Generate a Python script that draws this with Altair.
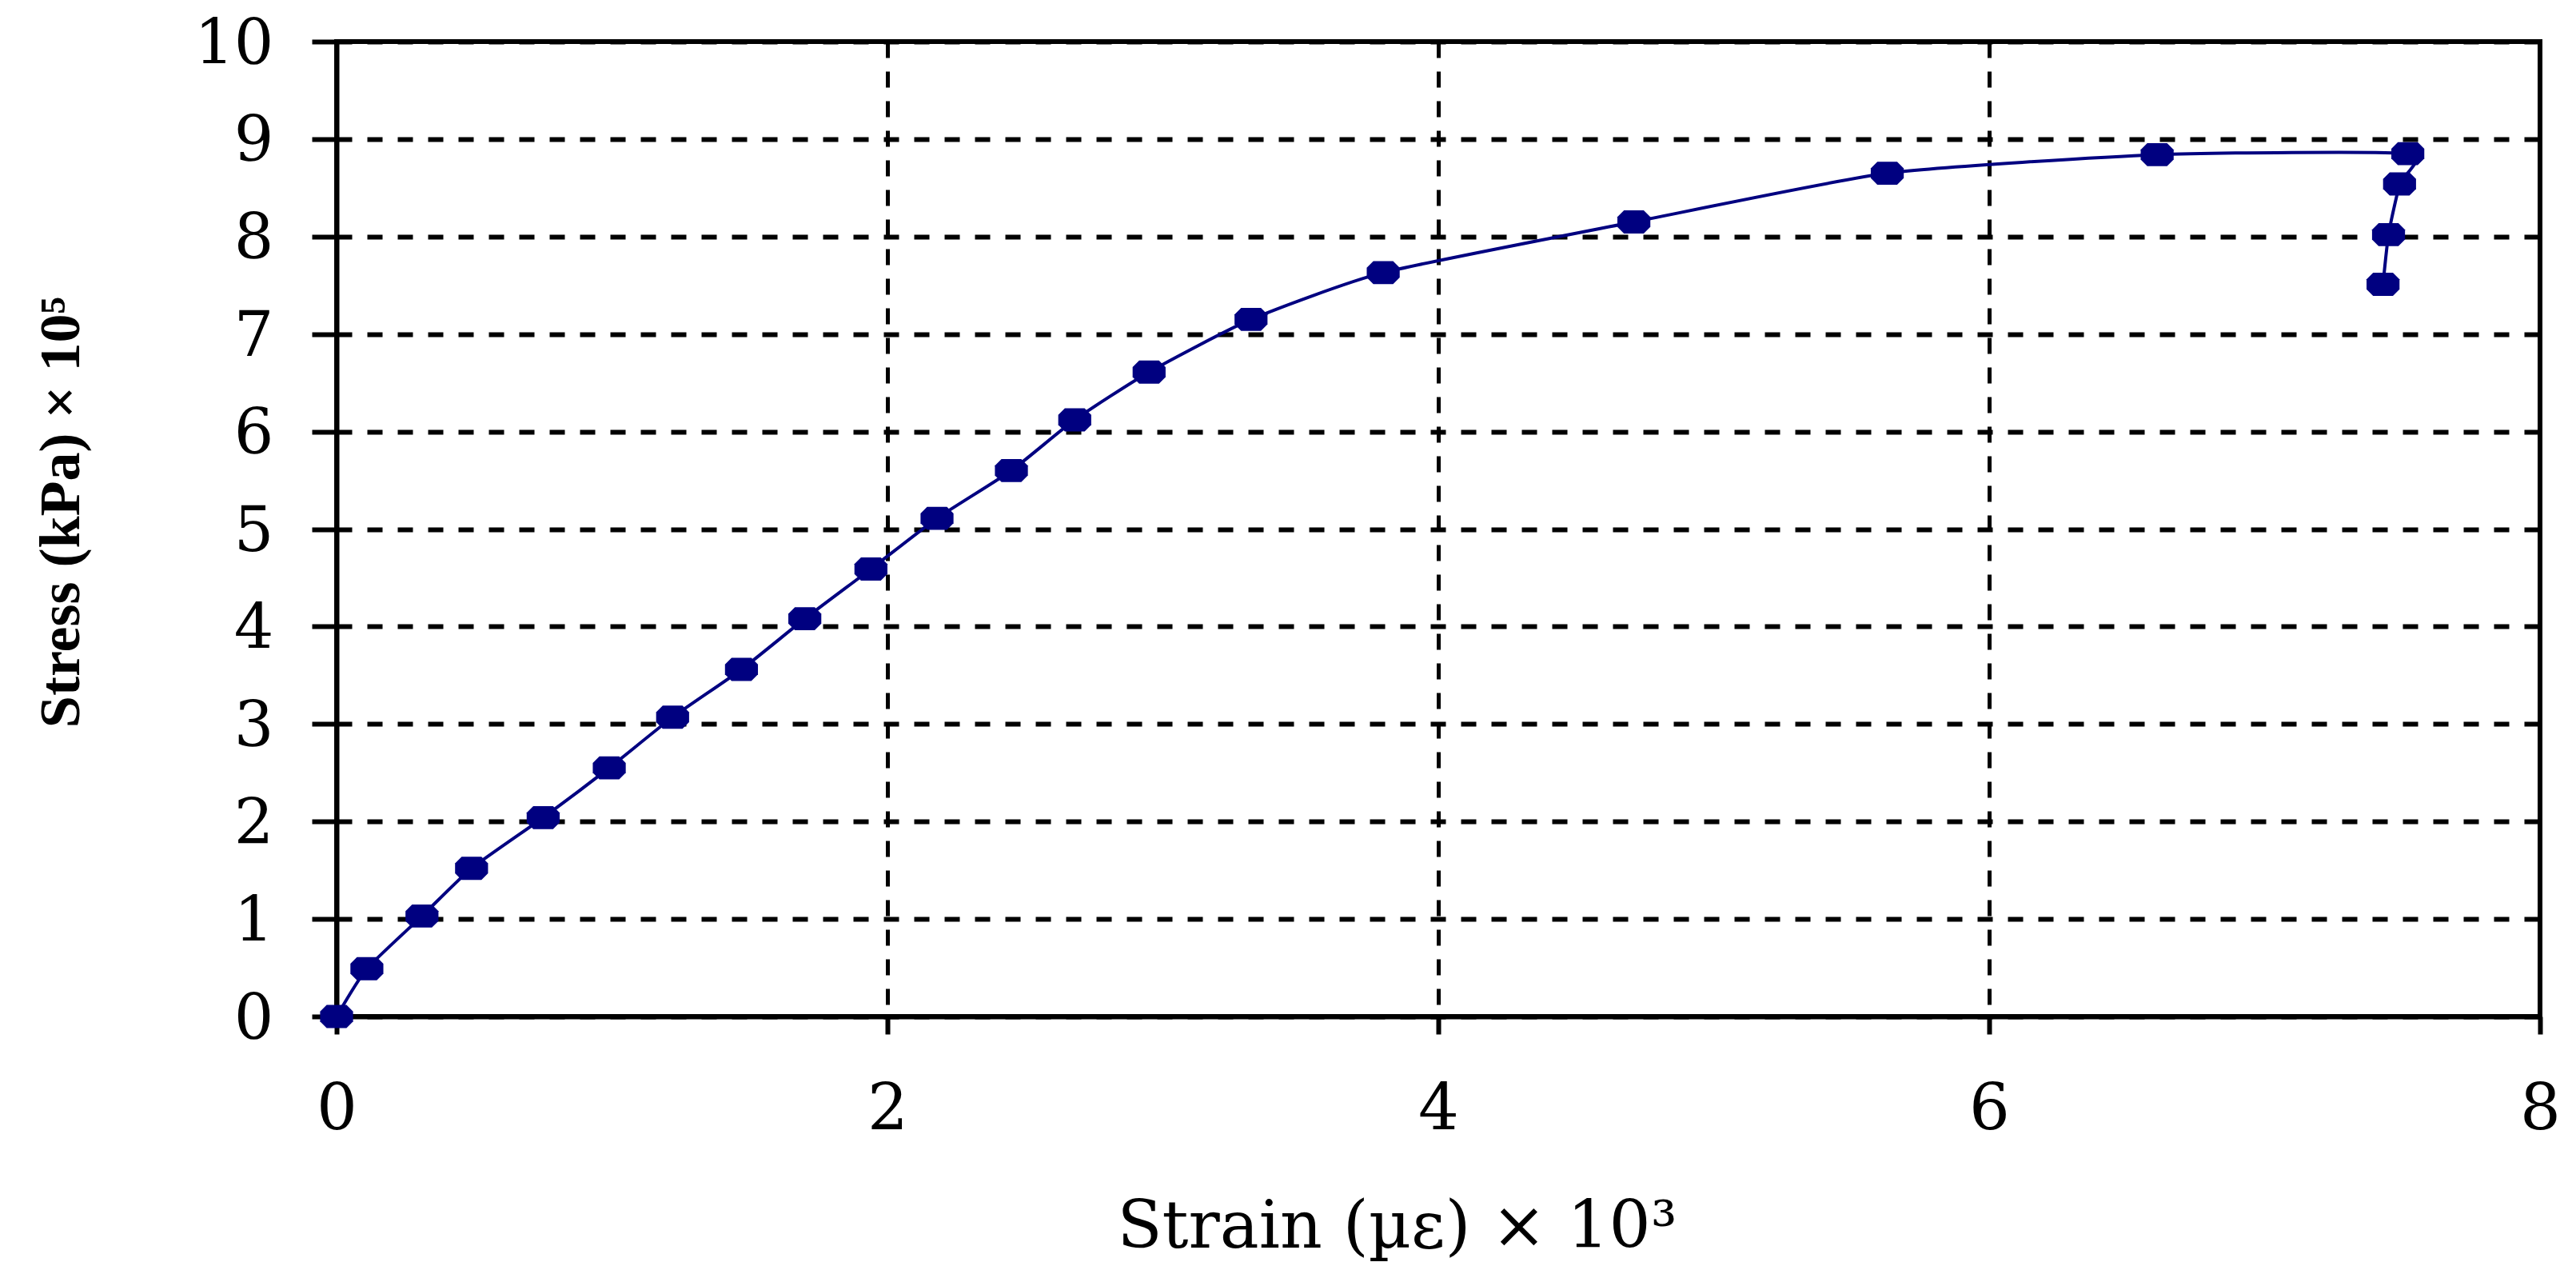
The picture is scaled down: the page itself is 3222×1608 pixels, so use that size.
import altair as alt
import pandas as pd

# Data
strain = [0, 0.11, 0.31, 0.49, 0.75, 0.99, 1.22, 1.47, 1.70, 1.94, 2.18, 2.45,
          2.68, 2.95, 3.32, 3.80, 4.71, 5.63, 6.61, 7.52, 7.49, 7.45, 7.43]
stress = [0, 0.49, 1.03, 1.52, 2.04, 2.55, 3.07, 3.56, 4.08, 4.59, 5.11, 5.60,
          6.12, 6.61, 7.15, 7.63, 8.15, 8.65, 8.84, 8.85, 8.54, 8.02, 7.51]
x_ticks = [0, 2, 4, 6, 8]
y_ticks = [0, 1, 2, 3, 4, 5, 6, 7, 8, 9, 10]

df = pd.DataFrame({"strain": strain, "stress": stress, "idx": list(range(len(strain)))})

NAVY = "#000080"

x_enc = alt.X(
    "strain:Q",
    scale=alt.Scale(domain=[0, 8], nice=False, zero=False),
    axis=alt.Axis(
        values=x_ticks, format="d",
        title="Strain (µε) × 10³",
        titleFont="DejaVu Serif", titleFontSize=82, titleFontWeight="normal",
        titleColor="black", titleX=1326, titleY=288,
        titleBaseline="alphabetic", titleAlign="center",
        labelFont="DejaVu Serif", labelFontSize=80, labelColor="black",
        labelPadding=55, labelFlush=False,
        tickSize=22, tickWidth=6, tickColor="black",
        domainWidth=6, domainColor="black",
        grid=True, gridColor="black", gridWidth=5, gridDash=[20, 17], gridOpacity=1,
    ),
)
y_enc = alt.Y(
    "stress:Q",
    scale=alt.Scale(domain=[0, 10], nice=False, zero=False),
    axis=alt.Axis(
        values=y_ticks, format="d",
        title="Stress (kPa) × 10⁵",
        titleFont="Liberation Serif", titleFontSize=72, titleFontWeight="bold",
        titleColor="black", titleAngle=270, titleX=-345, titleY=588,
        titleBaseline="middle", titleAlign="center",
        labelFont="DejaVu Serif", labelFontSize=78, labelColor="black",
        labelPadding=48, labelFlush=False, labelOffset=4,
        tickSize=31, tickWidth=6, tickColor="black",
        domainWidth=6, domainColor="black",
        grid=True, gridColor="black", gridWidth=6, gridDash=[19, 19], gridOpacity=1,
    ),
)

line = alt.Chart(df).mark_line(
    color=NAVY, strokeWidth=4, interpolate="cardinal", tension=0.45
).encode(x=x_enc, y=y_enc, order="idx:Q")

marker_path = "M-0.6,-0.7L0.6,-0.7L1,-0.3L1,0.3L0.6,0.7L-0.6,0.7L-1,0.3L-1,-0.3Z"
points = alt.Chart(df).mark_point(
    filled=True, shape=marker_path, size=1700, color=NAVY, opacity=1
).encode(x="strain:Q", y="stress:Q")

chart = (
    alt.layer(line, points)
    .properties(
        width=2756, height=1219,
        autosize=alt.AutoSizeParams(type="none"),
        padding={"left": 413, "top": 44, "right": 30, "bottom": 330},
        background="white",
    )
    .configure_view(stroke="black", strokeWidth=6)
)

chart.save("out.html", embed_options={"renderer": "svg", "actions": False})
